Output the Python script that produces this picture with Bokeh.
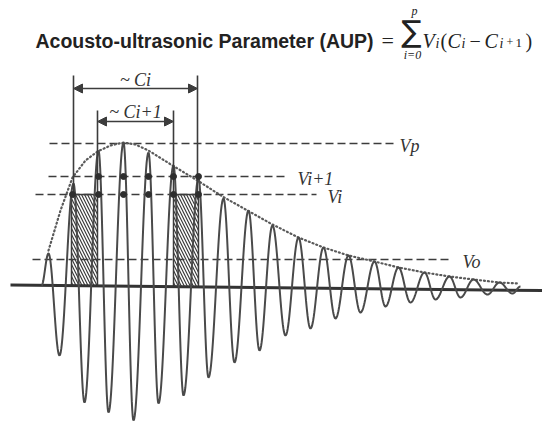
import numpy as np
from bokeh.plotting import figure
from bokeh.models import Range1d, Arrow, NormalHead
from bokeh.core.properties import value
from bokeh.embed import file_html
from bokeh.resources import INLINE

# ---- data (diagram coordinates, y grows downward) ----
peak_x = [48, 73, 98, 123, 148, 173, 198, 223, 248, 272, 298, 323, 348, 374, 398, 424, 449, 473, 499]
peak_y = [253, 183, 150, 142, 152, 165, 178, 198, 210, 225, 237, 247, 255, 261, 267, 272, 276, 279, 282]
trough_x = [59, 84, 108, 133, 158, 183, 208, 234, 259, 285, 310, 335, 360, 385, 410, 435, 460, 487, 512]
trough_y = [355, 402, 412, 420, 403, 395, 377, 362, 350, 335, 328, 318, 312, 306, 302, 299, 297, 294, 293]
wave_start = [41, 285]
wave_end = [520, 286]

env_x = [48, 60, 72, 85, 97, 110, 123, 135, 148, 172, 197, 222, 247, 272, 298, 323, 348, 374, 398, 424, 449, 473, 499, 518]
env_y = [250, 210, 177, 160, 151, 145, 142, 144, 150, 165, 180, 196, 210, 224, 237, 247, 255, 261, 267, 272, 276, 279, 282, 283]

level_names = ["Vp", "Vi+1", "Vi", "Vo"]
level_y = [143, 176, 194, 259]
level_x0 = [49, 48, 35, 32]
level_x1 = [397, 288, 316, 452]
label_x = [399, 297, 327, 462]

ci_x = [73, 197]        # ~Ci bracket
ci1_x = [97, 173]       # ~Ci+1 bracket
baseline_x = [10, 542]
baseline_y = [284.5, 290]

# ---- build waveform from extrema (cosine between successive extrema) ----
ext_x = [wave_start[0]]
ext_y = [wave_start[1]]
for i in range(len(peak_x)):
    ext_x += [peak_x[i], trough_x[i]]
    ext_y += [peak_y[i], trough_y[i]]
ext_x.append(wave_end[0])
ext_y.append(wave_end[1])
wx, wy = [], []
for i in range(len(ext_x) - 1):
    t = np.linspace(0, 1, 24, endpoint=False)
    wx.extend(ext_x[i] + (ext_x[i + 1] - ext_x[i]) * t)
    wy.extend(ext_y[i] + (ext_y[i + 1] - ext_y[i]) * (1 - np.cos(np.pi * t)) / 2)
wx.append(ext_x[-1])
wy.append(ext_y[-1])

INK = "#3c3c3c"
WAVE = "#4a4a4a"

p = figure(width=542, height=423, x_range=Range1d(0, 542), y_range=Range1d(423, 0),
           output_backend="svg", toolbar_location=None, min_border=0)
p.axis.visible = False
p.grid.visible = False
p.outline_line_color = None
p.background_fill_color = "white"
p.border_fill_color = "white"

# hatched areas between Ci and Ci+1 edges, from Vi level down to baseline
base_at = lambda x: baseline_y[0] + (baseline_y[1] - baseline_y[0]) * (x - baseline_x[0]) / (baseline_x[1] - baseline_x[0])
vi = level_y[level_names.index("Vi")]
p.quad(left=[ci_x[0] - 2, ci1_x[1]], right=[ci1_x[0], ci_x[1] + 1],
       top=[vi, vi], bottom=[base_at(85), base_at(185)],
       fill_color="white", hatch_pattern="\\", hatch_scale=6, hatch_weight=1.2,
       hatch_color=INK, line_color=INK, line_width=1.5)

# dashed level lines
for i in range(len(level_names)):
    p.line([level_x0[i], level_x1[i]], [level_y[i], level_y[i]], line_color=INK,
           line_width=1.6, line_dash="8 4")

# envelope
p.line(env_x, env_y, line_color="#5a5a5a", line_width=2.2, line_dash="1 3", line_cap="round")

# baseline
p.line(baseline_x, baseline_y, line_color="#333333", line_width=3)

# waveform
p.line(wx, wy, line_color=WAVE, line_width=2)

# bracket verticals
for xx in ci_x:
    p.line([xx, xx], [75, vi], line_color=INK, line_width=1.6)
for xx in ci1_x:
    p.line([xx, xx], [110, vi], line_color=INK, line_width=1.6)

# crossing dots
for lname in ["Vi+1", "Vi"]:
    ly = level_y[level_names.index(lname)]
    dx = [peak_x[k] - (1 if lname == "Vi" and k == 1 else 0) for k in range(len(peak_x)) if peak_y[k] <= ly + 3]
    p.scatter(dx, [ly] * len(dx), size=6, color="#2e2e2e")

# arrows
for xs, yy in [(ci_x, 88), (ci1_x, 121)]:
    p.add_layout(Arrow(x_start=xs[0], y_start=yy, x_end=xs[1], y_end=yy, line_color=INK, line_width=1.5,
                       start=NormalHead(size=9, fill_color=INK, line_color=INK),
                       end=NormalHead(size=9, fill_color=INK, line_color=INK)))

serif = value("Liberation Serif")
p.text(x=[(ci_x[0] + ci_x[1]) / 2, (ci1_x[0] + ci1_x[1]) / 2], y=[79, 111], text=["~ Ci", "~ Ci+1"],
       text_font=serif, text_font_style="italic", text_font_size="18px", text_align="center",
       text_baseline="middle", text_color="#333333")

# level labels
p.text(x=label_x, y=[y + 2 for y in level_y], text=level_names, text_font=serif,
       text_font_style="italic", text_font_size="18px", text_baseline="middle", text_color="#333333")

# title formula
p.text(x=[35], y=[40], text=["Acousto-ultrasonic Parameter (AUP)"], text_font=value("Liberation Sans"),
       text_font_style="bold", text_font_size="19.5px", text_baseline="alphabetic", text_color="#222222")
p.text(x=[381], y=[40], text=["="], text_font=serif, text_font_size="22px",
       text_baseline="alphabetic", text_color="#222222")
p.text(x=[411], y=[31], text=["\u2211"], text_font=value("DejaVu Sans"), text_font_size="30px",
       text_align="center", text_baseline="middle", text_color="#222222")
p.text(x=[414, 412], y=[10, 54], text=["p", "i=0"], text_font=serif, text_font_style="italic",
       text_font_size="12px", text_align="center", text_baseline="middle", text_color="#222222")
parts = [("V", 422, 20, "italic", 40), ("i", 435, 14, "italic", 43), ("(", 440, 20, "normal", 40),
         ("C", 447, 20, "italic", 40), ("i", 461, 14, "italic", 43), ("\u2212", 469, 20, "normal", 40),
         ("C", 484, 20, "italic", 40), ("i", 499, 14, "italic", 43), ("+", 506, 12, "normal", 41),
         ("1", 515, 13, "normal", 42), (")", 525, 20, "normal", 40)]
for txt, xx, fs, st, yy in parts:
    p.text(x=[xx], y=[yy], text=[txt], text_font=serif, text_font_style=st, text_font_size=f"{fs}px",
           text_baseline="alphabetic", text_color="#222222")

open("out.html", "w").write(file_html(p, INLINE))
